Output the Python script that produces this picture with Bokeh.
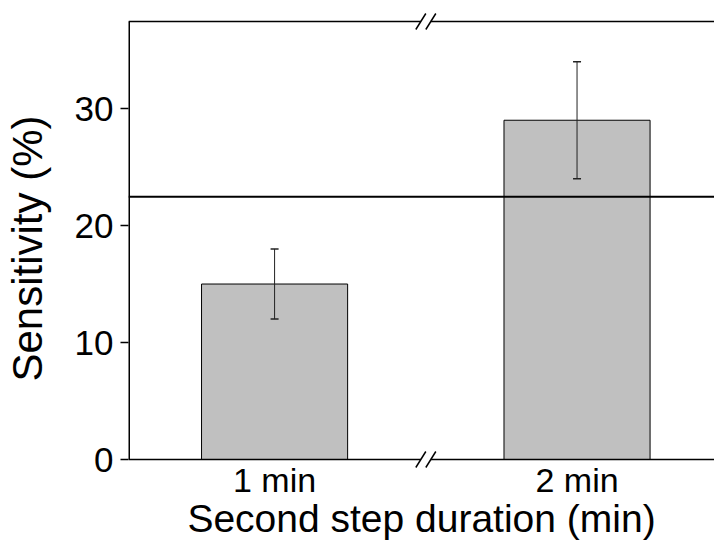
from bokeh.plotting import figure
from bokeh.models import (Range1d, FixedTicker, Whisker, TeeHead,
                          Span, ColumnDataSource)
from bokeh.embed import file_html
from bokeh.resources import INLINE

# ---- data ----
categories = ["1 min", "2 min"]
positions = [1, 2]
sensitivity = [15, 29]
err_low = [12, 24]
err_high = [18, 34]
reference_level = 22.45
y_ticks = [0, 10, 20, 30]

# ---- layout ----
W, H = 714, 544
E_TOP, E_BOT = 9, 25        # extra frame margin (px) so break marks are not clipped
BL, BR, BT, BB = 128, 0, 21 - E_TOP, 85 - E_BOT
FW, FH = W - BL - BR, H - BT - BB
AX_H = FH - E_TOP - E_BOT   # height of the drawn axes box
x0, x1 = 0.517, 2.4545
y_lo, y_hi = 0, 37.44
xpp = (x1 - x0) / FW
ypp = (y_hi - y_lo) / AX_H
FONT = "Liberation Sans"

p = figure(width=W, height=H, x_range=Range1d(x0, x1),
           y_range=Range1d(y_lo - E_BOT * ypp, y_hi + E_TOP * ypp),
           output_backend="svg", toolbar_location=None,
           min_border_left=BL, min_border_right=BR, min_border_top=BT, min_border_bottom=BB)
p.outline_line_color = None
p.grid.visible = False
p.background_fill_color = "white"
p.border_fill_color = "white"

# left axis (ticks + labels; line drawn below)
ya = p.yaxis[0]
ya.ticker = FixedTicker(ticks=y_ticks)
ya.minor_tick_line_color = None
ya.axis_line_color = None
ya.major_tick_out = 8
ya.major_tick_in = 0
ya.major_tick_line_width = 1.5
ya.major_label_text_font = FONT
ya.major_label_text_font_size = "35px"
ya.major_label_text_color = "black"
ya.major_label_standoff = 7
ya.axis_label = "Sensitivity (%)"
ya.axis_label_text_font = FONT
ya.axis_label_text_font_size = "42px"
ya.axis_label_text_font_style = "normal"
ya.axis_label_text_color = "black"
ya.axis_label_standoff = 21

# bottom axis (labels only)
xa = p.xaxis[0]
xa.ticker = FixedTicker(ticks=positions)
xa.major_label_overrides = {pos: lab for pos, lab in zip(positions, categories)}
xa.axis_line_color = None
xa.major_tick_line_color = None
xa.major_tick_out = 0
xa.major_tick_in = 0
xa.minor_tick_line_color = None
xa.major_label_text_font = FONT
xa.major_label_text_font_size = "34px"
xa.major_label_text_color = "black"
xa.major_label_standoff = 1 - E_BOT
xa.axis_label = "Second step duration (min)"
xa.axis_label_text_font = FONT
xa.axis_label_text_font_size = "39px"
xa.axis_label_text_font_style = "normal"
xa.axis_label_text_color = "black"
xa.axis_label_standoff = -5

# bars
src = ColumnDataSource(dict(x=positions, top=sensitivity, lo=err_low, hi=err_high))
p.vbar(x="x", top="top", width=0.483, source=src,
       fill_color="#c0c0c0", line_color="black", line_width=1)

# error bars
p.add_layout(Whisker(source=src, base="x", lower="lo", upper="hi", level="overlay",
                     line_color="#222222", line_width=1,
                     upper_head=TeeHead(size=8, line_color="#222222", line_width=1.5),
                     lower_head=TeeHead(size=8, line_color="#222222", line_width=1.5)))

# reference line
p.add_layout(Span(location=reference_level, dimension="width",
                  line_color="black", line_width=2))

# axes box: left line, bottom and top lines with a break between the categories
xb = sum(positions) / len(positions)
gap = 5 * xpp
p.segment(x0=[x0], y0=[y_lo], x1=[x0], y1=[y_hi], line_color="black", line_width=3)
sx0, sy0, sx1, sy1 = [], [], [], []
for yl in (y_lo, y_hi):
    sx0 += [x0, xb + gap]; sx1 += [xb - gap, x1]; sy0 += [yl, yl]; sy1 += [yl, yl]
p.segment(x0=sx0, y0=sy0, x1=sx1, y1=sy1, line_color="black", line_width=1.5)

# break marks "//"
bx0, by0, bx1, by1 = [], [], [], []
for yl in (y_lo, y_hi):
    for c in (xb - gap, xb + gap):
        bx0.append(c - 5 * xpp); by0.append(yl - 8 * ypp)
        bx1.append(c + 5 * xpp); by1.append(yl + 8 * ypp)
p.segment(x0=bx0, y0=by0, x1=bx1, y1=by1, line_color="black", line_width=1.5)

open("out.html", "w").write(file_html(p, INLINE))
